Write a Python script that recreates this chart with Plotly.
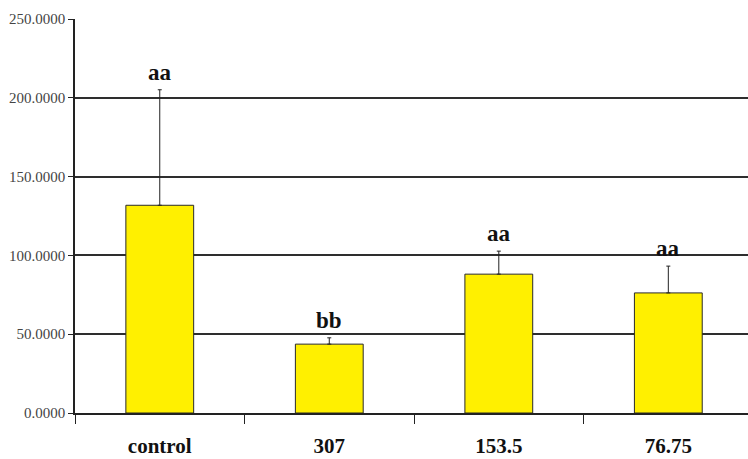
import plotly.graph_objects as go

# Treatment groups, mean responses, upper error and significance letters
groups = ["control", "307", "153.5", "76.75"]
means = [131.8, 43.7, 88.1, 76.2]
err_up = [73.3, 4.0, 14.6, 17.0]
letters = ["aa", "bb", "aa", "aa"]
y_ticks = [0, 50, 100, 150, 200, 250]

serif = "Liberation Serif, Times New Roman, serif"

fig = go.Figure()
fig.add_trace(go.Bar(
    x=groups,
    y=means,
    width=0.4,
    marker=dict(color="#FFF000", line=dict(color="#2a2a2a", width=1)),
    error_y=dict(type="data", symmetric=False, array=err_up,
                 arrayminus=[0] * len(err_up),
                 color="#222222", thickness=1, width=2),
))

# Significance letters sit just above each error bar (x given as category index)
for i, (m, e, lab) in enumerate(zip(means, err_up, letters)):
    fig.add_annotation(
        x=i, y=m + e, text=lab, showarrow=False,
        xref="x", yref="y",
        yanchor="bottom", yshift=3,
        font=dict(family=serif, size=23, color="#111111", weight="bold"),
    )

fig.update_layout(
    width=748, height=459,
    margin=dict(l=75, r=0, t=19, b=46),
    paper_bgcolor="white", plot_bgcolor="white",
    showlegend=False,
    bargap=0.6,
)
fig.update_xaxes(
    type="category",
    range=[-0.5, 3.47],
    automargin=False,
    showline=True, linecolor="#222222", linewidth=1.5,
    ticks="outside", tickson="boundaries", ticklen=9,
    tickcolor="#222222", tickwidth=1,
    ticklabelstandoff=13,
    tickfont=dict(family=serif, size=21, color="#111111", weight="bold"),
    showgrid=False,
)
fig.update_yaxes(
    range=[0, 250],
    automargin=False,
    tickvals=y_ticks, tickformat=".4f",
    showline=True, linecolor="#222222", linewidth=1.5,
    ticks="outside", ticklen=5, tickcolor="#222222",
    showgrid=True, gridcolor="#2e2e2e", gridwidth=1.5,
    zeroline=False,
    tickfont=dict(family=serif, size=15, color="#444444"),
)

fig.write_html("out.html")
